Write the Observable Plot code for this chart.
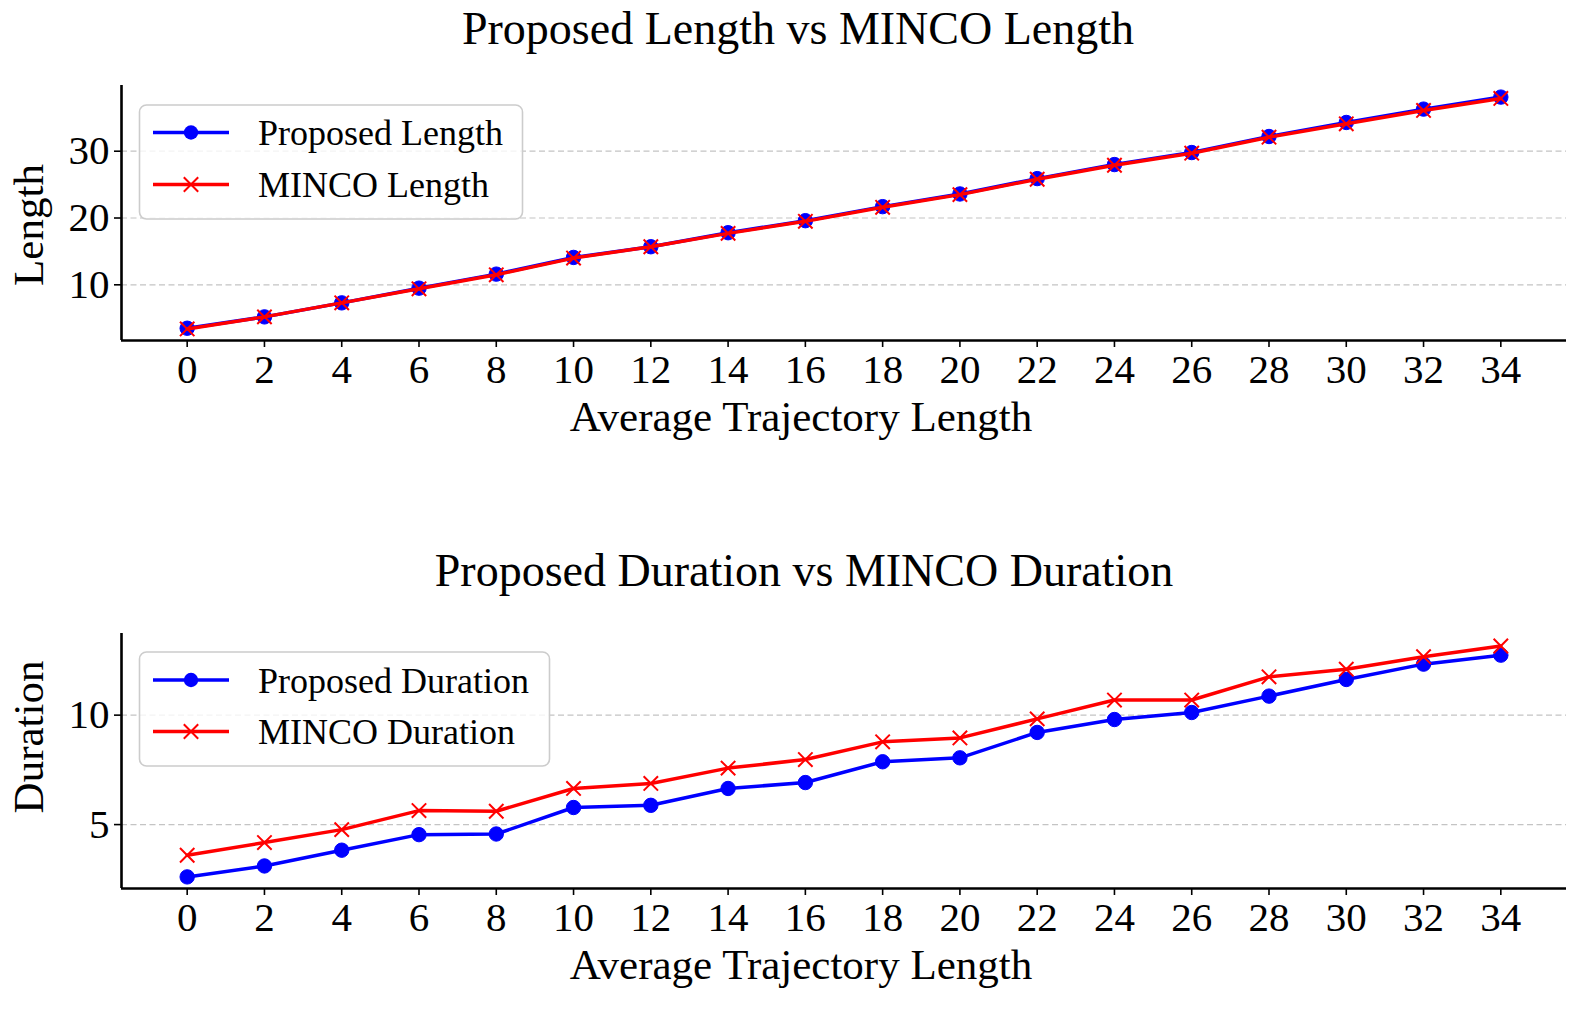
<!DOCTYPE html>
<html>
<head>
<meta charset="utf-8">
<script src="https://cdn.jsdelivr.net/npm/d3@7"></script>
<script src="https://cdn.jsdelivr.net/npm/@observablehq/plot@0.6"></script>
<style>
  html, body { margin: 0; padding: 0; background: #fff; }
  #wrap { position: relative; width: 1578px; height: 1009px; overflow: hidden; background: #fff; }
  #wrap > svg { position: absolute; left: 0; }
</style>
</head>
<body>
<div id="wrap"></div>
<script>
// ---------------- data ----------------
const avgTrajLength = [0, 2, 4, 6, 8, 10, 12, 14, 16, 18, 20, 22, 24, 26, 28, 30, 32, 34];
const xTickLabels = [0, 2, 4, 6, 8, 10, 12, 14, 16, 18, 20, 22, 24, 26, 28, 30, 32, 34];

const proposedLength = [3.5, 5.2, 7.3, 9.5, 11.6, 14.1, 15.7, 17.8, 19.6, 21.7, 23.6, 25.9, 28.0, 29.8, 32.2, 34.3, 36.3, 38.1];
const mincoLength    = [3.4, 5.2, 7.3, 9.4, 11.5, 14.0, 15.7, 17.7, 19.5, 21.6, 23.5, 25.8, 27.9, 29.7, 32.1, 34.1, 36.1, 37.9];
const lengthTicks = [10, 20, 30];

const proposedDuration = [2.61, 3.11, 3.83, 4.54, 4.57, 5.78, 5.88, 6.65, 6.92, 7.87, 8.05, 9.21, 9.80, 10.12, 10.87, 11.63, 12.33, 12.74];
const mincoDuration    = [3.60, 4.18, 4.77, 5.64, 5.61, 6.65, 6.88, 7.58, 7.97, 8.78, 8.96, 9.83, 10.69, 10.69, 11.75, 12.10, 12.67, 13.16];
const durationTicks = [5, 10];

const FONT = "'Liberation Serif', 'Times New Roman', 'DejaVu Serif', serif";
const BLUE = "#0000ff", RED = "#ff0000";
const X_DOMAIN = [-1.7, 35.7];

function toRows(xs, ys) { return xs.map((x, i) => ({ x, y: ys[i] })); }

function panel({ top, height, marginTop, marginBottom, yDomain, yTicks, blue, red }) {
  const blueRows = toRows(avgTrajLength, blue);
  const redRows = toRows(avgTrajLength, red);
  const svg = Plot.plot({
    width: 1578,
    height,
    marginTop,
    marginBottom,
    marginLeft: 121,
    marginRight: 12,
    style: { fontFamily: FONT, fontSize: "41px", color: "#000", background: "transparent", overflow: "visible" },
    x: { domain: X_DOMAIN },
    y: { domain: yDomain },
    marks: [
      Plot.gridY(yTicks, { stroke: "#c4c4c4", strokeOpacity: 1, strokeWidth: 1.2, strokeDasharray: "6,3.5" }),
      Plot.axisX({ ticks: xTickLabels, tickFormat: d => String(d), tickSize: 7, tickPadding: 6, strokeWidth: 1.6, fontSize: 41, fontFamily: FONT, label: null }),
      Plot.axisY({ ticks: yTicks, tickFormat: d => String(d), tickSize: 7, tickPadding: 5, strokeWidth: 1.6, fontSize: 41, fontFamily: FONT, label: null }),
      Plot.line(blueRows, { x: "x", y: "y", stroke: BLUE, strokeWidth: 3.5 }),
      Plot.dot(blueRows, { x: "x", y: "y", r: 7.2, fill: BLUE, stroke: BLUE, strokeWidth: 1, symbol: "circle" }),
      Plot.line(redRows, { x: "x", y: "y", stroke: RED, strokeWidth: 3.5 }),
      Plot.dot(redRows, { x: "x", y: "y", r: 6.6, stroke: RED, strokeWidth: 2, symbol: "times" }),
      Plot.ruleX([X_DOMAIN[0]], { stroke: "#000", strokeWidth: 2.6 }),
      Plot.ruleY([yDomain[0]], { stroke: "#000", strokeWidth: 2.6 })
    ]
  });
  svg.style.top = top + "px";
  return svg;
}

const wrap = document.getElementById("wrap");
wrap.appendChild(panel({
  top: 0, height: 470, marginTop: 85, marginBottom: 130,
  yDomain: [1.665, 39.835], yTicks: lengthTicks,
  blue: proposedLength, red: mincoLength
}));
wrap.appendChild(panel({
  top: 470, height: 539, marginTop: 163, marginBottom: 121,
  yDomain: [2.08, 13.73], yTicks: durationTicks,
  blue: proposedDuration, red: mincoDuration
}));

// ---------------- text & legends overlay ----------------
const ov = d3.select(wrap).append("svg")
  .attr("width", 1578).attr("height", 1009)
  .style("top", "0px").style("pointer-events", "none")
  .attr("font-family", FONT).attr("fill", "#000");

function title(text, cx, baseline) {
  ov.append("text").attr("x", cx).attr("y", baseline).attr("text-anchor", "middle")
    .attr("font-size", 46).text(text);
}
function xlabel(text, cx, baseline) {
  ov.append("text").attr("x", cx).attr("y", baseline).attr("text-anchor", "middle")
    .attr("font-size", 43).text(text);
}
function ylabel(text, bx, cy) {
  ov.append("text").attr("transform", `translate(${bx},${cy}) rotate(-90)`)
    .attr("text-anchor", "middle").attr("font-size", 43).text(text);
}
function legend(x, y, w, h, rows, labels) {
  const g = ov.append("g");
  g.append("rect").attr("x", x).attr("y", y).attr("width", w).attr("height", h)
    .attr("rx", 7).attr("fill", "#fff").attr("fill-opacity", 0.8)
    .attr("stroke", "#cccccc").attr("stroke-width", 1.6);
  const kinds = [{ c: BLUE, m: "o" }, { c: RED, m: "x" }];
  rows.forEach((ry, i) => {
    const k = kinds[i];
    g.append("line").attr("x1", 153).attr("x2", 229).attr("y1", ry).attr("y2", ry)
      .attr("stroke", k.c).attr("stroke-width", 3.5);
    if (k.m === "o") {
      g.append("circle").attr("cx", 191).attr("cy", ry).attr("r", 7.2).attr("fill", k.c);
    } else {
      const s = 7.2;
      g.append("path").attr("d", `M${191 - s},${ry - s}L${191 + s},${ry + s}M${191 - s},${ry + s}L${191 + s},${ry - s}`)
        .attr("stroke", k.c).attr("stroke-width", 2).attr("fill", "none");
    }
    g.append("text").attr("x", 258).attr("y", ry + 12.5).attr("font-size", 36).text(labels[i]);
  });
}

title("Proposed Length vs MINCO Length", 798, 44);
xlabel("Average Trajectory Length", 801, 431);
ylabel("Length", 43, 225);
legend(139.5, 105, 383, 114, [132.5, 184.5], ["Proposed Length", "MINCO Length"]);

title("Proposed Duration vs MINCO Duration", 804, 586);
xlabel("Average Trajectory Length", 801, 979);
ylabel("Duration", 43, 737);
legend(139.5, 652, 410, 114, [680, 731.5], ["Proposed Duration", "MINCO Duration"]);
</script>
</body>
</html>
